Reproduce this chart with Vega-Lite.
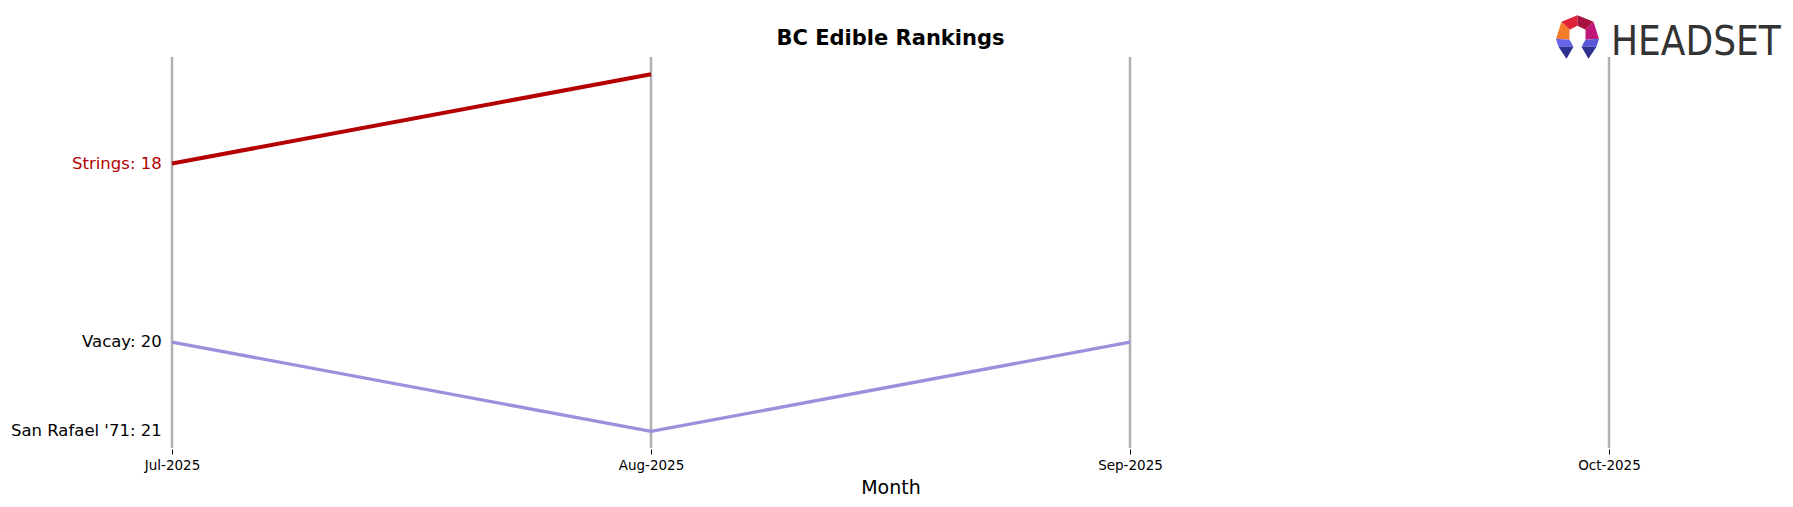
{
  "$schema": "https://vega.github.io/schema/vega-lite/v6.json",
  "autosize": "none",
  "width": 1437,
  "height": 391,
  "padding": {"left": 172, "top": 57, "right": 184, "bottom": 59},
  "background": "white",
  "title": {"text": "BC Edible Rankings", "font": "DejaVu Sans", "fontSize": 21, "fontWeight": "bold", "color": "black", "anchor": "middle", "offset": -34},
  "config": {
    "view": {"stroke": null},
    "axisX": {"domain": false, "grid": false, "ticks": true, "tickColor": "black", "tickSize": 5, "tickWidth": 1, "offset": 1, "labelFont": "DejaVu Sans", "labelFontSize": 13.5, "labelColor": "black", "labelPadding": 4, "labelAngle": 0, "titleFont": "DejaVu Sans", "titleFontSize": 19, "titleFontWeight": "normal", "titleColor": "black", "titlePadding": 7}
  },
  "datasets": {
    "ranks": [
      {"brand": "Strings", "month": "Jul-2025", "rank": 18},
      {"brand": "Strings", "month": "Aug-2025", "rank": 17},
      {"brand": "Vacay", "month": "Jul-2025", "rank": 20},
      {"brand": "Vacay", "month": "Aug-2025", "rank": 21},
      {"brand": "Vacay", "month": "Sep-2025", "rank": 20},
      {"brand": "San Rafael '71", "month": "Jul-2025", "rank": 21}
    ],
    "months": [
      {"month": "Jul-2025"},
      {"month": "Aug-2025"},
      {"month": "Sep-2025"},
      {"month": "Oct-2025"}
    ],
    "logo": [
      {"item": "logo"}
    ]
  },
  "layer": [
    {
      "data": {"name": "months"},
      "mark": {"type": "rule", "color": "#b0b0b0", "strokeWidth": 2.5},
      "encoding": {
        "x": {"field": "month", "type": "ordinal", "title": "Month", "scale": {"type": "point", "padding": 0, "domain": ["Jul-2025", "Aug-2025", "Sep-2025", "Oct-2025"]}}
      }
    },
    {
      "data": {"name": "ranks"},
      "mark": {"type": "line", "strokeCap": "butt", "interpolate": "linear"},
      "encoding": {
        "x": {"field": "month", "type": "ordinal", "title": "Month"},
        "y": {"field": "rank", "type": "quantitative", "axis": null, "scale": {"domain": [16.807, 21.186], "reverse": true, "zero": false, "nice": false}},
        "detail": {"field": "brand"},
        "color": {"field": "brand", "type": "nominal", "legend": null, "scale": {"domain": ["Strings", "Vacay", "San Rafael '71"], "range": ["#b40000", "#9d8fdc", "#9d8fdc"]}},
        "strokeWidth": {"field": "brand", "type": "nominal", "legend": null, "scale": {"domain": ["Strings", "Vacay", "San Rafael '71"], "range": [4, 2.6, 2.6]}}
      }
    },
    {
      "data": {"name": "ranks"},
      "transform": [
        {"filter": "datum.month === 'Jul-2025'"},
        {"calculate": "datum.brand + ': ' + datum.rank", "as": "label"}
      ],
      "mark": {"type": "text", "align": "right", "baseline": "middle", "dx": -10.3, "font": "DejaVu Sans", "fontSize": 16.5},
      "encoding": {
        "x": {"field": "month", "type": "ordinal", "title": "Month"},
        "y": {"field": "rank", "type": "quantitative", "axis": null},
        "text": {"field": "label"},
        "color": {"condition": {"test": "datum.brand === 'Strings'", "value": "#b40000"}, "value": "black"}
      }
    },
    {"data": {"name": "logo"}, "mark": {"type": "point", "shape": "M-1.370,-0.935L-2.066,-0.652L-1.718,-0.304L-1.370,-0.478Z", "size": 2116, "filled": true, "fill": "#e0243a", "strokeWidth": 0, "opacity": 1},
     "encoding": {"x": {"datum": "Oct-2025", "type": "ordinal", "title": "Month"}, "y": {"datum": 16.581, "type": "quantitative", "axis": null}}},
    {"data": {"name": "logo"}, "mark": {"type": "point", "shape": "M-1.370,-0.935L-0.674,-0.652L-1.022,-0.304L-1.370,-0.478Z", "size": 2116, "filled": true, "fill": "#a8123e", "strokeWidth": 0, "opacity": 1},
     "encoding": {"x": {"datum": "Oct-2025", "type": "ordinal", "title": "Month"}, "y": {"datum": 16.581, "type": "quantitative", "axis": null}}},
    {"data": {"name": "logo"}, "mark": {"type": "point", "shape": "M-2.066,-0.652L-2.305,0.087L-1.718,0.13L-1.718,-0.304Z", "size": 2116, "filled": true, "fill": "#f47b2a", "strokeWidth": 0, "opacity": 1},
     "encoding": {"x": {"datum": "Oct-2025", "type": "ordinal", "title": "Month"}, "y": {"datum": 16.581, "type": "quantitative", "axis": null}}},
    {"data": {"name": "logo"}, "mark": {"type": "point", "shape": "M-0.674,-0.652L-0.435,0.087L-1.022,0.13L-1.022,-0.304Z", "size": 2116, "filled": true, "fill": "#c0187a", "strokeWidth": 0, "opacity": 1},
     "encoding": {"x": {"datum": "Oct-2025", "type": "ordinal", "title": "Month"}, "y": {"datum": 16.581, "type": "quantitative", "axis": null}}},
    {"data": {"name": "logo"}, "mark": {"type": "point", "shape": "M-2.305,0.087L-1.718,0.13L-1.544,0.435L-2.196,0.435Z", "size": 2116, "filled": true, "fill": "#6464e6", "strokeWidth": 0, "opacity": 1},
     "encoding": {"x": {"datum": "Oct-2025", "type": "ordinal", "title": "Month"}, "y": {"datum": 16.581, "type": "quantitative", "axis": null}}},
    {"data": {"name": "logo"}, "mark": {"type": "point", "shape": "M-2.196,0.435L-1.544,0.435L-1.848,0.957Z", "size": 2116, "filled": true, "fill": "#2e3190", "strokeWidth": 0, "opacity": 1},
     "encoding": {"x": {"datum": "Oct-2025", "type": "ordinal", "title": "Month"}, "y": {"datum": 16.581, "type": "quantitative", "axis": null}}},
    {"data": {"name": "logo"}, "mark": {"type": "point", "shape": "M-0.435,0.087L-1.022,0.13L-1.196,0.435L-0.544,0.435Z", "size": 2116, "filled": true, "fill": "#5a5ad8", "strokeWidth": 0, "opacity": 1},
     "encoding": {"x": {"datum": "Oct-2025", "type": "ordinal", "title": "Month"}, "y": {"datum": 16.581, "type": "quantitative", "axis": null}}},
    {"data": {"name": "logo"}, "mark": {"type": "point", "shape": "M-0.544,0.435L-1.196,0.435L-0.892,0.957Z", "size": 2116, "filled": true, "fill": "#2e3190", "strokeWidth": 0, "opacity": 1},
     "encoding": {"x": {"datum": "Oct-2025", "type": "ordinal", "title": "Month"}, "y": {"datum": 16.581, "type": "quantitative", "axis": null}}},
    {"data": {"name": "logo"}, "mark": {"type": "text", "text": "HEADSET", "align": "left", "baseline": "alphabetic", "dx": 2, "dy": 17.8, "font": "DejaVu Sans Condensed, Liberation Sans Narrow, sans-serif", "fontSize": 40, "color": "#333333"},
     "encoding": {"x": {"datum": "Oct-2025", "type": "ordinal", "title": "Month"}, "y": {"datum": 16.581, "type": "quantitative", "axis": null}}}
  ]
}
